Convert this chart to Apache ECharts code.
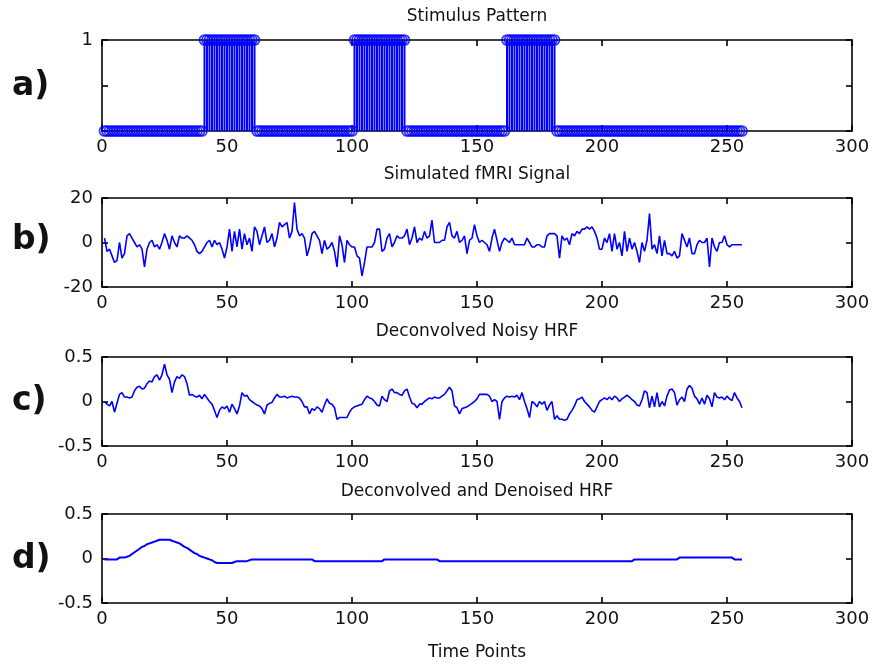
<!DOCTYPE html>
<html>
<head>
<meta charset="utf-8">
<script src="https://cdn.jsdelivr.net/npm/echarts@6/dist/echarts.min.js"></script>
<style>html,body{margin:0;padding:0;background:#fff}#c{width:876px;height:666px}</style>
</head>
<body>
<div id="c"></div>
<script>
// ---- data (time points 1..256) ----
var xTicks = [0, 50, 100, 150, 200, 250, 300];
var panelTitles = ['Stimulus Pattern', 'Simulated fMRI Signal', 'Deconvolved Noisy HRF', 'Deconvolved and Denoised HRF'];
var panelLetters = ['a)', 'b)', 'c)', 'd)'];
var xLabel = 'Time Points';

var stimulus = [
0,0,0,0,0,0,0,0,0,0, 0,0,0,0,0,0,0,0,0,0, 0,0,0,0,0,0,0,0,0,0, 0,0,0,0,0,0,0,0,0,0,
1,1,1,1,1,1,1,1,1,1, 1,1,1,1,1,1,1,1,1,1, 1,0,0,0,0,0,0,0,0,0, 0,0,0,0,0,0,0,0,0,0,
0,0,0,0,0,0,0,0,0,0, 0,0,0,0,0,0,0,0,0,0, 1,1,1,1,1,1,1,1,1,1, 1,1,1,1,1,1,1,1,1,1,
1,0,0,0,0,0,0,0,0,0, 0,0,0,0,0,0,0,0,0,0, 0,0,0,0,0,0,0,0,0,0, 0,0,0,0,0,0,0,0,0,0,
0,1,1,1,1,1,1,1,1,1, 1,1,1,1,1,1,1,1,1,1, 1,0,0,0,0,0,0,0,0,0, 0,0,0,0,0,0,0,0,0,0,
0,0,0,0,0,0,0,0,0,0, 0,0,0,0,0,0,0,0,0,0, 0,0,0,0,0,0,0,0,0,0, 0,0,0,0,0,0,0,0,0,0,
0,0,0,0,0,0,0,0,0,0, 0,0,0,0,0,0
];

var fmriSignal = [
2,-4,-3,-6,-9,-8,0,-7,-5,3,
4,2,0,-2,-1,-3,-11,-3,0,1,
-2,-1,-3,0,4,1,-3,3,0,-2,
3,2,2,3,2,1,-1,-4,-5,-4,
-2,0,1,-2,1,-1,0,-3,-7,-2,
6,-4,5,-2,6,-3,4,-1,2,-4,
7,5,-1,3,7,0,1,4,-2,2,
9,7,8,9,2,5,18,6,3,4,
2,-6,-2,4,5,3,1,-5,1,-3,
-2,0,-4,-11,3,-1,-9,1,-1,-2,
-2,-6,-7,-15,-9,-2,-2,-2,0,6,
6,-4,-3,2,4,-2,0,3,2,2,
3,6,-1,2,7,0,2,1,5,2,
3,10,0,0,0,1,1,7,9,3,
2,5,0,1,3,-5,1,2,8,3,
0,1,0,-1,-4,2,6,1,-4,0,
2,1,0,2,-1,-1,-1,-1,-1,2,
0,-2,-2,-1,-1,-2,-2,3,4,4,
4,3,-7,3,1,2,-1,4,3,5,
4,6,6,7,6,7,5,2,-3,-3,
2,0,4,-4,4,-3,0,-6,5,-4,
2,-3,0,-4,-9,0,-4,1,13,-3,
-1,-5,3,-6,1,-5,-5,-6,-4,-7,
-6,4,1,-2,2,-5,-5,-1,1,0,
0,2,-11,2,-2,-4,0,0,3,-1,
-2,-1,-1,-1,-1,-1
];

var noisyHRF = [
0.0,-0.03,-0.05,0.0,-0.12,-0.02,0.08,0.1,0.05,0.05,
0.04,0.05,0.12,0.16,0.17,0.14,0.15,0.2,0.23,0.22,
0.28,0.3,0.24,0.3,0.42,0.3,0.25,0.1,0.22,0.28,
0.26,0.3,0.28,0.2,0.07,0.08,0.06,0.05,0.07,0.03,
0.08,0.04,0.0,-0.03,-0.1,-0.18,-0.1,-0.06,-0.08,-0.05,
-0.12,-0.03,-0.08,-0.14,-0.05,0.1,0.06,0.07,0.02,0.0,
-0.02,-0.04,-0.05,-0.08,-0.14,-0.04,-0.02,-0.01,0.04,0.08,
0.05,0.05,0.06,0.04,0.05,0.06,0.05,0.05,0.04,0.0,
-0.06,-0.06,-0.14,-0.08,-0.1,-0.06,-0.08,-0.12,-0.04,0.03,
-0.02,-0.03,-0.07,-0.2,-0.18,-0.18,-0.18,-0.18,-0.12,-0.08,
-0.06,-0.05,-0.04,-0.03,0.02,0.06,0.04,0.03,0.0,-0.04,
-0.05,0.06,0.02,0.0,0.12,0.14,0.1,0.1,0.08,0.07,
0.12,0.14,0.05,-0.02,-0.03,-0.07,-0.03,-0.03,0.0,0.02,
0.04,0.03,0.05,0.04,0.04,0.06,0.08,0.12,0.16,0.12,
-0.05,-0.07,-0.14,-0.08,-0.07,-0.06,-0.04,-0.02,0.0,0.03,
0.08,0.08,0.08,0.08,0.06,0.0,0.02,0.0,-0.2,0.0,
0.04,0.06,0.05,0.06,0.05,0.07,0.02,0.1,0.0,-0.08,
-0.18,0.0,-0.02,-0.06,0.0,-0.03,0.0,-0.1,-0.04,0.0,
-0.2,-0.16,-0.2,-0.2,-0.21,-0.2,-0.14,-0.1,-0.05,0.02,
0.03,0.05,0.0,-0.03,-0.06,-0.1,-0.12,-0.06,0.0,0.02,
0.04,0.02,0.05,0.02,0.06,0.04,0.0,0.03,0.05,0.07,
0.05,0.02,0.0,-0.04,-0.05,0.02,0.12,0.1,-0.07,0.06,
-0.06,0.1,-0.06,0.0,-0.05,0.06,0.13,0.14,0.1,-0.04,
0.02,0.05,0.0,0.14,0.18,0.15,0.06,0.03,-0.03,0.04,
-0.03,0.07,0.03,-0.06,0.1,0.05,0.04,0.05,0.02,0.06,
0.03,0.01,0.1,0.04,0.0,-0.07
];

var denoisedHRF = [
-0.01,-0.01,-0.01,-0.01,-0.01,-0.01,
0.01,0.01,0.01,0.02,0.03,0.05,
0.07,0.09,0.11,0.13,0.14,0.16,0.17,0.18,
0.19,0.2,0.21,0.21,0.21,0.21,0.21,0.2,0.19,0.18,
0.17,0.15,0.13,0.12,0.1,0.08,0.06,0.05,0.03,0.02,
0.01,0.0,-0.01,-0.02,-0.04,-0.05,-0.05,-0.05,-0.05,-0.05,
-0.05,-0.05,-0.04,-0.03,-0.03,-0.03,-0.03,-0.03,-0.02,-0.01,
-0.01,-0.01,-0.01,-0.01,-0.01,-0.01,-0.01,-0.01,-0.01,-0.01,-0.01,-0.01,
-0.01,-0.01,-0.01,-0.01,-0.01,-0.01,-0.01,-0.01,-0.01,-0.01,-0.01,-0.01,
-0.03,-0.03,-0.03,-0.03,-0.03,-0.03,-0.03,-0.03,-0.03,-0.03,-0.03,-0.03,-0.03,-0.03,
-0.03,-0.03,-0.03,-0.03,-0.03,-0.03,-0.03,-0.03,-0.03,-0.03,-0.03,-0.03,-0.03,-0.03,
-0.01,-0.01,-0.01,-0.01,-0.01,-0.01,-0.01,-0.01,-0.01,-0.01,-0.01,
-0.01,-0.01,-0.01,-0.01,-0.01,-0.01,-0.01,-0.01,-0.01,-0.01,-0.01,
-0.03,-0.03,-0.03,-0.03,-0.03,-0.03,-0.03,-0.03,-0.03,-0.03,-0.03,-0.03,-0.03,
-0.03,-0.03,-0.03,-0.03,-0.03,-0.03,-0.03,-0.03,-0.03,-0.03,-0.03,-0.03,-0.03,
-0.03,-0.03,-0.03,-0.03,-0.03,-0.03,-0.03,-0.03,-0.03,-0.03,-0.03,-0.03,-0.03,
-0.03,-0.03,-0.03,-0.03,-0.03,-0.03,-0.03,-0.03,-0.03,-0.03,-0.03,-0.03,-0.03,
-0.03,-0.03,-0.03,-0.03,-0.03,-0.03,-0.03,-0.03,-0.03,-0.03,-0.03,-0.03,-0.03,
-0.03,-0.03,-0.03,-0.03,-0.03,-0.03,-0.03,-0.03,-0.03,-0.03,-0.03,-0.03,-0.03,
-0.01,-0.01,-0.01,-0.01,-0.01,-0.01,-0.01,-0.01,-0.01,
-0.01,-0.01,-0.01,-0.01,-0.01,-0.01,-0.01,-0.01,-0.01,
0.01,0.01,0.01,0.01,0.01,0.01,0.01,0.01,0.01,0.01,0.01,
0.01,0.01,0.01,0.01,0.01,0.01,0.01,0.01,0.01,0.01,0.01,
-0.01,-0.01,-0.01,-0.01
];

function pairs(arr) { return arr.map(function (v, i) { return [i + 1, v]; }); }

var BLUE = '#0000ff';
var FONT = 'DejaVu Sans';
var grids = [
  { left: 102, top: 40, width: 750, height: 91 },
  { left: 102, top: 198, width: 750, height: 89 },
  { left: 102, top: 357, width: 750, height: 89 },
  { left: 102, top: 514, width: 750, height: 89 }
];
var yCfg = [
  { min: 0, max: 1, interval: 0.5, fmt: function (v) { return v === 1 ? '1' : ''; } },
  { min: -20, max: 20, interval: 20, fmt: function (v) { return String(v); } },
  { min: -0.5, max: 0.5, interval: 0.5, fmt: function (v) { return String(v); } },
  { min: -0.5, max: 0.5, interval: 0.5, fmt: function (v) { return String(v); } }
];

var xAxes = [], yAxes = [];
var lineStyle = { color: '#000', width: 1.6 };
grids.forEach(function (g, i) {
  xAxes.push({
    type: 'value', gridIndex: i, position: 'bottom', min: 0, max: 300, interval: 50,
    axisLine: { show: true, onZero: false, lineStyle: lineStyle },
    axisTick: { show: true, inside: true, length: 6, lineStyle: lineStyle },
    axisLabel: { show: true, margin: 7, color: '#111', fontFamily: FONT, fontSize: 18 },
    splitLine: { show: false }
  });
  xAxes.push({
    type: 'value', gridIndex: i, position: 'top', min: 0, max: 300, interval: 50,
    axisLine: { show: true, onZero: false, lineStyle: lineStyle },
    axisTick: { show: true, inside: true, length: 6, lineStyle: lineStyle },
    axisLabel: { show: false }, splitLine: { show: false }
  });
  yAxes.push({
    type: 'value', gridIndex: i, position: 'left', min: yCfg[i].min, max: yCfg[i].max, interval: yCfg[i].interval,
    axisLine: { show: true, onZero: false, lineStyle: lineStyle },
    axisTick: { show: true, inside: true, length: 6, lineStyle: lineStyle },
    axisLabel: { show: true, margin: 9, color: '#111', fontFamily: FONT, fontSize: 18, formatter: yCfg[i].fmt },
    splitLine: { show: false }
  });
  yAxes.push({
    type: 'value', gridIndex: i, position: 'right', min: yCfg[i].min, max: yCfg[i].max, interval: yCfg[i].interval,
    axisLine: { show: true, onZero: false, lineStyle: lineStyle },
    axisTick: { show: true, inside: true, length: 6, lineStyle: lineStyle },
    axisLabel: { show: false }, splitLine: { show: false }
  });
});

var series = [
  { type: 'bar', xAxisIndex: 0, yAxisIndex: 0, data: pairs(stimulus), barWidth: 2,
    itemStyle: { color: BLUE }, silent: true, z: 2 },
  { type: 'scatter', xAxisIndex: 0, yAxisIndex: 0, data: pairs(stimulus), symbol: 'circle', symbolSize: 10,
    itemStyle: { color: 'rgba(0,0,0,0)', borderColor: BLUE, borderWidth: 1.7 }, silent: true, z: 3 },
  { type: 'line', xAxisIndex: 2, yAxisIndex: 2, data: pairs(fmriSignal), showSymbol: false,
    lineStyle: { color: BLUE, width: 1.6 }, silent: true },
  { type: 'line', xAxisIndex: 4, yAxisIndex: 4, data: pairs(noisyHRF), showSymbol: false,
    lineStyle: { color: BLUE, width: 1.6 }, silent: true },
  { type: 'line', xAxisIndex: 6, yAxisIndex: 6, data: pairs(denoisedHRF), showSymbol: false,
    lineStyle: { color: BLUE, width: 2 }, silent: true }
];

var titleY = [17, 175, 332, 492];
var letterY = [86, 240, 401, 559];
var graphics = [];
panelTitles.forEach(function (t, i) {
  graphics.push({ type: 'text', x: 477, y: titleY[i],
    style: { text: t, fill: '#111', font: '17px "' + FONT + '"', textAlign: 'center', textVerticalAlign: 'middle' } });
  graphics.push({ type: 'text', x: 12, y: letterY[i],
    style: { text: panelLetters[i], fill: '#111', font: 'bold 33px "DejaVu Sans"', textAlign: 'left', textVerticalAlign: 'middle' } });
});
graphics.push({ type: 'text', x: 477, y: 653,
  style: { text: xLabel, fill: '#111', font: '17px "' + FONT + '"', textAlign: 'center', textVerticalAlign: 'middle' } });

var chart = echarts.init(document.getElementById('c'), null, { renderer: 'canvas' });
chart.setOption({
  animation: false,
  backgroundColor: '#fff',
  grid: grids,
  xAxis: xAxes,
  yAxis: yAxes,
  series: series,
  graphic: graphics
});
</script>
</body>
</html>
